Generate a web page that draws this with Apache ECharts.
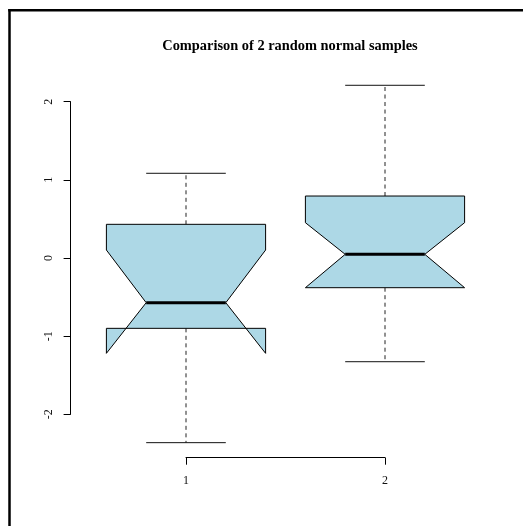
<!DOCTYPE html>
<html>
<head>
<meta charset="utf-8">
<script src="https://cdn.jsdelivr.net/npm/echarts@6/dist/echarts.min.js"></script>
<style>
html,body{margin:0;padding:0;background:#fff;overflow:hidden;}
#chart{width:523px;height:526px;}
</style>
</head>
<body>
<div id="chart"></div>
<script>
// ---- data ----
const categories = ['1', '2'];
const positions = [1, 2];
const whiskerLow = [-2.363, -1.327];
const q1 = [-0.900, -0.380];
const median = [-0.572, 0.047];
const q3 = [0.431, 0.793];
const whiskerHigh = [1.084, 2.210];
const notchLow = [-1.220, -0.380];
const notchHigh = [0.102, 0.452];
const yTicks = [-2, -1, 0, 1, 2];
const titleText = 'Comparison of 2 random normal samples';

const boxData = positions.map((p, i) => [p, whiskerLow[i], q1[i], median[i], q3[i], whiskerHigh[i], notchLow[i], notchHigh[i]]);

const HW = 0.4;   // box half width (data units)
const NW = 0.2;   // notch / staple half width

function renderItem(params, api) {
  const x = api.value(0);
  const wl = api.value(1), b1 = api.value(2), md = api.value(3), b3 = api.value(4), wh = api.value(5), nl = api.value(6), nh = api.value(7);
  const c = (xx, yy) => api.coord([xx, yy]);
  const poly = [
    c(x - HW, b3), c(x + HW, b3), c(x + HW, nh), c(x + NW, md), c(x + HW, nl),
    c(x + HW, b1), c(x - HW, b1), c(x - HW, nl), c(x - NW, md), c(x - HW, nh)
  ];
  const dash = { stroke: '#222', lineWidth: 1, lineDash: [4, 3.5] };
  const solid = { stroke: '#111', lineWidth: 1 };
  const seg = (a, b, st) => ({ type: 'line', shape: { x1: a[0], y1: a[1], x2: b[0], y2: b[1] }, style: st });
  return {
    type: 'group',
    children: [
      seg(c(x, b3), c(x, wh), dash),
      seg(c(x, b1), c(x, wl), dash),
      seg(c(x - NW, wh), c(x + NW, wh), solid),
      seg(c(x - NW, wl), c(x + NW, wl), solid),
      { type: 'polygon', shape: { points: poly }, style: { fill: '#ADD8E6', stroke: '#000', lineWidth: 1, lineJoin: 'miter' } },
      seg(c(x - NW, md), c(x + NW, md), { stroke: '#000', lineWidth: 3 })
    ]
  };
}

const chart = echarts.init(document.getElementById('chart'), null, { renderer: 'canvas' });
const labelFont = { fontFamily: 'Liberation Serif', fontSize: 12, color: '#111' };
chart.setOption({
  animation: false,
  backgroundColor: '#fff',
  title: {
    text: titleText,
    left: 285,
    top: 34,
    textAlign: 'center',
    textStyle: { fontFamily: 'Liberation Serif', fontWeight: 'bold', fontSize: 14.4, color: '#000' }
  },
  graphic: [
    { type: 'line', shape: { x1: 9.5, y1: 9, x2: 9.5, y2: 526 }, style: { stroke: '#000', lineWidth: 2.5 }, silent: true },
    { type: 'line', shape: { x1: 8.25, y1: 10.2, x2: 523, y2: 10.2 }, style: { stroke: '#000', lineWidth: 2.5 }, silent: true }
  ],
  grid: { left: 186, right: 138, top: 101.7, bottom: 111.7 },
  xAxis: {
    type: 'value', min: 1, max: 2, interval: 1, position: 'bottom', offset: 43.4,
    axisLine: { show: true, onZero: false, lineStyle: { color: '#000', width: 1 } },
    axisTick: { show: true, inside: false, length: 7, lineStyle: { color: '#000', width: 1 } },
    axisLabel: Object.assign({ margin: 17, formatter: v => categories[positions.indexOf(v)] || '' }, labelFont),
    splitLine: { show: false }
  },
  yAxis: {
    type: 'value', min: yTicks[0], max: yTicks[yTicks.length - 1], interval: 1, position: 'left', offset: 115.4,
    axisLine: { show: true, onZero: false, lineStyle: { color: '#000', width: 1 } },
    axisTick: { show: true, inside: false, length: 7, lineStyle: { color: '#000', width: 1 } },
    axisLabel: Object.assign({ margin: 16, rotate: 90, formatter: v => yTicks.includes(v) ? String(v) : '' }, labelFont),
    splitLine: { show: false }
  },
  series: [{
    type: 'custom',
    renderItem: renderItem,
    clip: false,
    data: boxData,
    encode: { x: 0, y: [1, 5] }
  }]
});
</script>
</body>
</html>
